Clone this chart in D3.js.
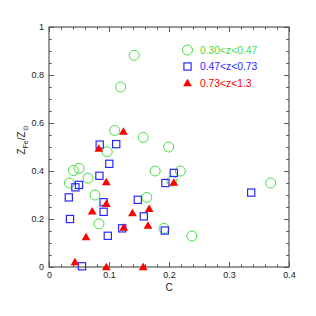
<!DOCTYPE html>
<html>
<head>
<meta charset="utf-8">
<script src="https://cdn.jsdelivr.net/npm/d3@7"></script>
<style>
  body { margin: 0; background: #fff; }
  svg { display: block; }
  .tick text { font-family: "Liberation Sans", Arial, sans-serif; font-size: 9px; fill: #222; }
  .tick line { stroke: #555; stroke-width: 1; }
</style>
</head>
<body>
<div id="chart"></div>
<script>
// C vs Z_Fe/Z_sun, three redshift bins
const lowZ = [
  [0.142, 0.882], [0.1195, 0.75], [0.1095, 0.569], [0.157, 0.54], [0.097, 0.48],
  [0.1995, 0.50], [0.0405, 0.402], [0.05, 0.411], [0.034, 0.35], [0.065, 0.37],
  [0.0767, 0.30], [0.0833, 0.18], [0.177, 0.40], [0.163, 0.29], [0.219, 0.40],
  [0.205, 0.358], [0.3695, 0.35], [0.1917, 0.161], [0.238, 0.129]
];
const midZ = [
  [0.0845, 0.51], [0.112, 0.512], [0.1005, 0.43], [0.084, 0.38], [0.044, 0.332],
  [0.05, 0.342], [0.033, 0.29], [0.091, 0.27], [0.091, 0.23], [0.035, 0.2],
  [0.098, 0.13], [0.122, 0.161], [0.148, 0.28], [0.158, 0.211], [0.194, 0.35],
  [0.208, 0.392], [0.193, 0.152], [0.337, 0.31], [0.055, 0.003]
];
const highZ = [
  [0.083, 0.494], [0.124, 0.565], [0.0955, 0.354], [0.0955, 0.264], [0.072, 0.233],
  [0.0617, 0.125], [0.0433, 0.021], [0.0955, 0.0], [0.1245, 0.165], [0.139, 0.225],
  [0.167, 0.243], [0.165, 0.173], [0.157, 0.0], [0.208, 0.352]
];
const legendLabels = ["0.30<z<0.47", "0.47<z<0.73", "0.73<z<1.3"];
const xTicks = [0, 0.1, 0.2, 0.3, 0.4];
const yTicks = [0, 0.2, 0.4, 0.6, 0.8, 1];

const green = "#44e044", blue = "#2828ff", red = "#ff0000";
const width = 316, height = 316;
const margin = { top: 27, right: 27, bottom: 49, left: 49 };
const innerW = width - margin.left - margin.right;
const innerH = height - margin.top - margin.bottom;

const svg = d3.select("#chart").append("svg")
  .attr("width", width)
  .attr("height", height);

const g = svg.append("g")
  .attr("transform", `translate(${margin.left},${margin.top})`);

const x = d3.scaleLinear().domain([0, 0.4]).range([0, innerW]);
const y = d3.scaleLinear().domain([0, 1]).range([innerH, 0]);

const xMinor = d3.range(0, 0.4001, 0.02);
const yMinor = d3.range(0, 1.0001, 0.05);

// minor ticks on all sides
function minorAxis(axis, transform) {
  const a = g.append("g").attr("transform", transform).call(axis);
  a.select(".domain").remove();
  a.selectAll("text").remove();
}
minorAxis(d3.axisBottom(x).tickValues(xMinor).tickSize(-2.7), `translate(0,${innerH})`);
minorAxis(d3.axisTop(x).tickValues(xMinor).tickSize(-2.7), "translate(0,0)");
minorAxis(d3.axisLeft(y).tickValues(yMinor).tickSize(-2.7), "translate(0,0)");
minorAxis(d3.axisRight(y).tickValues(yMinor).tickSize(-2.7), `translate(${innerW},0)`);

// major ticks
const xAxis = g.append("g")
  .attr("transform", `translate(0,${innerH})`)
  .call(d3.axisBottom(x).tickValues(xTicks).tickSize(-5).tickPadding(5)
    .tickFormat(d => d === 0 ? "0" : d3.format(".1f")(d)));
xAxis.select(".domain").remove();

const yAxis = g.append("g")
  .call(d3.axisLeft(y).tickValues(yTicks).tickSize(-5).tickPadding(5)
    .tickFormat(d => (d === 0 || d === 1) ? d3.format("d")(d) : d3.format(".1f")(d)));
yAxis.select(".domain").remove();

const xTop = g.append("g").call(d3.axisTop(x).tickValues(xTicks).tickSize(-5).tickFormat(""));
xTop.select(".domain").remove();
const yRight = g.append("g").attr("transform", `translate(${innerW},0)`)
  .call(d3.axisRight(y).tickValues(yTicks).tickSize(-5).tickFormat(""));
yRight.select(".domain").remove();

// frame
g.append("rect")
  .attr("width", innerW)
  .attr("height", innerH)
  .attr("fill", "none")
  .attr("stroke", "#555")
  .attr("stroke-width", 1.2);

// axis labels
svg.append("text")
  .attr("x", margin.left + innerW / 2)
  .attr("y", 291)
  .attr("text-anchor", "middle")
  .attr("font-family", "Liberation Sans, Arial, sans-serif")
  .attr("font-size", 10)
  .attr("fill", "#222")
  .text("C");

const yl = svg.append("text")
  .attr("transform", "translate(25,140) rotate(-90)")
  .attr("text-anchor", "middle")
  .attr("font-family", "Liberation Sans, Arial, sans-serif")
  .attr("font-size", 10)
  .attr("fill", "#222");
yl.append("tspan").text("Z");
yl.append("tspan").attr("font-size", 7).attr("dy", 2.5).text("Fe");
yl.append("tspan").attr("dy", -2.5).text("/Z");
yl.append("tspan").attr("font-size", 7).attr("dy", 2.5).text("⊙");

// markers
const symCircle = "circle", symSquare = "square", symTri = "triangle";
function drawMarker(sel, type, color) {
  if (type === symCircle) {
    sel.append("circle").attr("r", 5).attr("fill", "none")
      .attr("stroke", color).attr("stroke-width", 1);
  } else if (type === symSquare) {
    sel.append("rect").attr("x", -3.6).attr("y", -3.6).attr("width", 7.2).attr("height", 7.2)
      .attr("fill", "none").attr("stroke", color).attr("stroke-width", 1.2);
  } else {
    sel.append("path").attr("d", "M0,-4.2L4.4,3.3L-4.4,3.3Z").attr("fill", color);
  }
}

const series = [
  { data: lowZ, type: symCircle, color: green },
  { data: midZ, type: symSquare, color: blue },
  { data: highZ, type: symTri, color: red }
];

series.forEach(s => {
  g.selectAll(null)
    .data(s.data)
    .enter()
    .append("g")
    .attr("transform", d => `translate(${x(d[0])},${y(d[1])})`)
    .each(function () { drawMarker(d3.select(this), s.type, s.color); });
});

// legend
series.forEach((s, i) => {
  const ly = 50 + i * 16.5;
  const lg = svg.append("g").attr("transform", `translate(187.5,${ly})`);
  drawMarker(lg, s.type, s.color);
  svg.append("text")
    .attr("x", 200)
    .attr("y", ly + 3.6)
    .attr("font-family", "Liberation Sans, Arial, sans-serif")
    .attr("font-size", 10.3)
    .attr("fill", s.color)
    .text(legendLabels[i]);
});
</script>
</body>
</html>
